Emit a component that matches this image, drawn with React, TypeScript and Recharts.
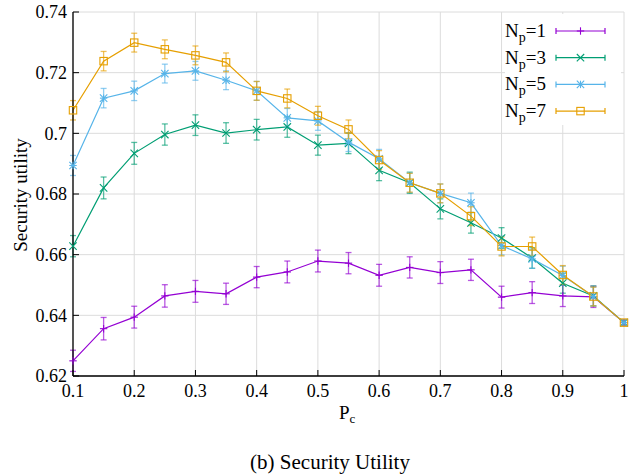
import React from 'react';
import { LineChart, Line, XAxis, YAxis, CartesianGrid, ErrorBar } from 'recharts';

// x values (P_c)
const pc = [0.1, 0.15, 0.2, 0.25, 0.3, 0.35, 0.4, 0.45, 0.5, 0.55, 0.6, 0.65, 0.7, 0.75, 0.8, 0.85, 0.9, 0.95, 1.0];

// security utility per N_p
const np1 = [0.6250, 0.6356, 0.6394, 0.6464, 0.6479, 0.6471, 0.6526, 0.6543, 0.6579, 0.6572, 0.6532, 0.6558, 0.6541, 0.6550, 0.6460, 0.6475, 0.6464, 0.6461, 0.6376];
const np3 = [0.6628, 0.6820, 0.6934, 0.6996, 0.7027, 0.7001, 0.7012, 0.7021, 0.6961, 0.6967, 0.6878, 0.6837, 0.6751, 0.6705, 0.6655, 0.6589, 0.6506, 0.6464, 0.6376];
const np5 = [0.6894, 0.7116, 0.7140, 0.7197, 0.7206, 0.7175, 0.7140, 0.7051, 0.7041, 0.6971, 0.6916, 0.6837, 0.6802, 0.6771, 0.6630, 0.6586, 0.6531, 0.6462, 0.6376];
const np7 = [0.7076, 0.7238, 0.7299, 0.7277, 0.7257, 0.7234, 0.7140, 0.7115, 0.7058, 0.7013, 0.6912, 0.6837, 0.6802, 0.6727, 0.6627, 0.6627, 0.6533, 0.6462, 0.6376];

// error bar half-widths
const err1 = [0.0035, 0.0037, 0.0036, 0.0037, 0.0036, 0.0035, 0.0035, 0.0036, 0.0036, 0.0035, 0.0036, 0.0035, 0.0036, 0.0035, 0.0036, 0.0036, 0.0035, 0.0035, 0.0008];
const err3 = [0.0035, 0.0036, 0.0036, 0.0035, 0.0034, 0.0034, 0.0034, 0.0034, 0.0033, 0.0034, 0.0034, 0.0035, 0.0033, 0.0034, 0.0034, 0.0034, 0.0033, 0.0033, 0.0008];
const err5 = [0.0033, 0.0032, 0.0032, 0.0031, 0.0031, 0.0031, 0.0031, 0.0031, 0.0031, 0.0031, 0.0031, 0.0032, 0.0031, 0.0032, 0.0031, 0.0031, 0.0031, 0.0031, 0.0008];
const err7 = [0.0032, 0.0032, 0.0031, 0.0031, 0.0031, 0.0031, 0.0031, 0.0031, 0.0031, 0.0031, 0.0031, 0.0031, 0.0031, 0.0031, 0.0031, 0.0031, 0.0031, 0.0031, 0.0008];

const xTicks = [0.1, 0.2, 0.3, 0.4, 0.5, 0.6, 0.7, 0.8, 0.9, 1.0];
const yTicks = [0.62, 0.64, 0.66, 0.68, 0.7, 0.72, 0.74];
const legendLabels = ['1', '3', '5', '7'];

const SERIES = [
  { key: 'np1', err: 'e1', color: '#9400d3', marker: 'plus' },
  { key: 'np3', err: 'e3', color: '#009e73', marker: 'cross' },
  { key: 'np5', err: 'e5', color: '#56b4e9', marker: 'star' },
  { key: 'np7', err: 'e7', color: '#e69f00', marker: 'square' },
];

const data = pc.map((x, i) => ({
  pc: x,
  np1: np1[i], e1: err1[i],
  np3: np3[i], e3: err3[i],
  np5: np5[i], e5: err5[i],
  np7: np7[i], e7: err7[i],
}));

const FONT = '"Liberation Serif", "Times New Roman", serif';

const Marker = ({ kind, cx, cy, color }: { kind: string; cx: number; cy: number; color: string }) => {
  const s = 3.7;
  if (cx == null || cy == null) return null;
  const plus = (
    <>
      <line x1={cx - s} y1={cy} x2={cx + s} y2={cy} />
      <line x1={cx} y1={cy - s} x2={cx} y2={cy + s} />
    </>
  );
  const cross = (
    <>
      <line x1={cx - s} y1={cy - s} x2={cx + s} y2={cy + s} />
      <line x1={cx - s} y1={cy + s} x2={cx + s} y2={cy - s} />
    </>
  );
  return (
    <g stroke={color} strokeWidth={1.1} fill="none">
      {kind === 'plus' && plus}
      {kind === 'cross' && cross}
      {kind === 'star' && (
        <>
          {plus}
          {cross}
        </>
      )}
      {kind === 'square' && <rect x={cx - s} y={cy - s} width={2 * s} height={2 * s} />}
    </g>
  );
};

const fmt = (v: number) => String(Number(v.toFixed(2)));

const XTick = (p: any) => (
  <text x={p.x} y={p.y} dy="0.71em" textAnchor="middle" style={{ fontFamily: FONT, fontSize: 18 }} fill="#000">
    {fmt(p.payload.value)}
  </text>
);

const YTick = (p: any) => (
  <text x={p.x} y={p.y} dy="0.36em" textAnchor="end" style={{ fontFamily: FONT, fontSize: 18 }} fill="#000">
    {fmt(p.payload.value)}
  </text>
);

export default function App() {
  return (
    <div style={{ position: 'absolute', left: 0, top: 0, width: 632, height: 475, background: '#fff', fontFamily: FONT }}>
      <LineChart width={632} height={475} data={data} margin={{ top: 12, right: 8, bottom: 69, left: 0 }}>
        <CartesianGrid stroke="#dcdcdc" strokeWidth={1} />
        <XAxis
          dataKey="pc"
          type="number"
          domain={[0.1, 1]}
          ticks={xTicks}
          height={30}
          tickSize={-6}
          tickMargin={14}
          tickLine={{ stroke: '#000' }}
          axisLine={{ stroke: '#000', strokeWidth: 1.3 }}
          tick={<XTick />}
          interval={0}
        />
        <XAxis
          xAxisId="top"
          orientation="top"
          type="number"
          domain={[0.1, 1]}
          ticks={xTicks}
          height={0}
          tickSize={-6}
          tick={false}
          tickLine={{ stroke: '#000' }}
          axisLine={{ stroke: '#000', strokeWidth: 1.3 }}
        />
        <YAxis
          type="number"
          domain={[0.62, 0.74]}
          ticks={yTicks}
          width={73}
          tickSize={-6}
          tickMargin={12}
          tickLine={{ stroke: '#000' }}
          axisLine={{ stroke: '#000', strokeWidth: 1.3 }}
          tick={<YTick />}
          interval={0}
        />
        <YAxis
          yAxisId="right"
          orientation="right"
          type="number"
          domain={[0.62, 0.74]}
          ticks={yTicks}
          width={0}
          tickSize={-6}
          tick={false}
          tickLine={{ stroke: '#000' }}
          axisLine={{ stroke: '#000', strokeWidth: 1.3 }}
        />
        {SERIES.map((s) => (
          <Line
            key={s.key}
            dataKey={s.key}
            type="linear"
            stroke={s.color}
            strokeWidth={1.2}
            isAnimationActive={false}
            dot={(p: any) => <Marker key={`${s.key}-${p.index}`} kind={s.marker} cx={p.cx} cy={p.cy} color={s.color} />}
            activeDot={false}
          >
            <ErrorBar dataKey={s.err} width={3} stroke={s.color} strokeOpacity={0.65} strokeWidth={1.3} direction="y" isAnimationActive={false} />
          </Line>
        ))}
      </LineChart>
      <svg width={632} height={475} style={{ position: 'absolute', left: 0, top: 0, pointerEvents: 'none' }}>
        <rect x={505} y={14} width={116} height={111} fill="#fff" />
        {SERIES.map((s, i) => {
          const y = 31 + i * 26.7;
          return (
            <g key={s.key}>
              <text x={546} y={y + 6} textAnchor="end" fontFamily={FONT} fontSize={19} fill="#000">
                N
                <tspan fontSize={14} dy={5}>p</tspan>
                <tspan dy={-5}>={legendLabels[i]}</tspan>
              </text>
              <g stroke={s.color} strokeWidth={1.2}>
                <line x1={556} y1={y} x2={605} y2={y} />
                <line x1={556} y1={y - 3} x2={556} y2={y + 3} />
                <line x1={605} y1={y - 3} x2={605} y2={y + 3} />
              </g>
              <Marker kind={s.marker} cx={580.5} cy={y} color={s.color} />
            </g>
          );
        })}
        <text
          x={20}
          y={195}
          transform="rotate(-90 20 195)"
          textAnchor="middle"
          dominantBaseline="central"
          fontFamily={FONT}
          fontSize={19}
          fill="#000"
        >
          Security utility
        </text>
        <text x={339} y={419} fontFamily={FONT} fontSize={19} fill="#000">
          P<tspan fontSize={13} dy={4}>c</tspan>
        </text>
        <text x={330} y={469} textAnchor="middle" fontFamily={FONT} fontSize={21} fill="#000">
          (b) Security Utility
        </text>
      </svg>
    </div>
  );
}
